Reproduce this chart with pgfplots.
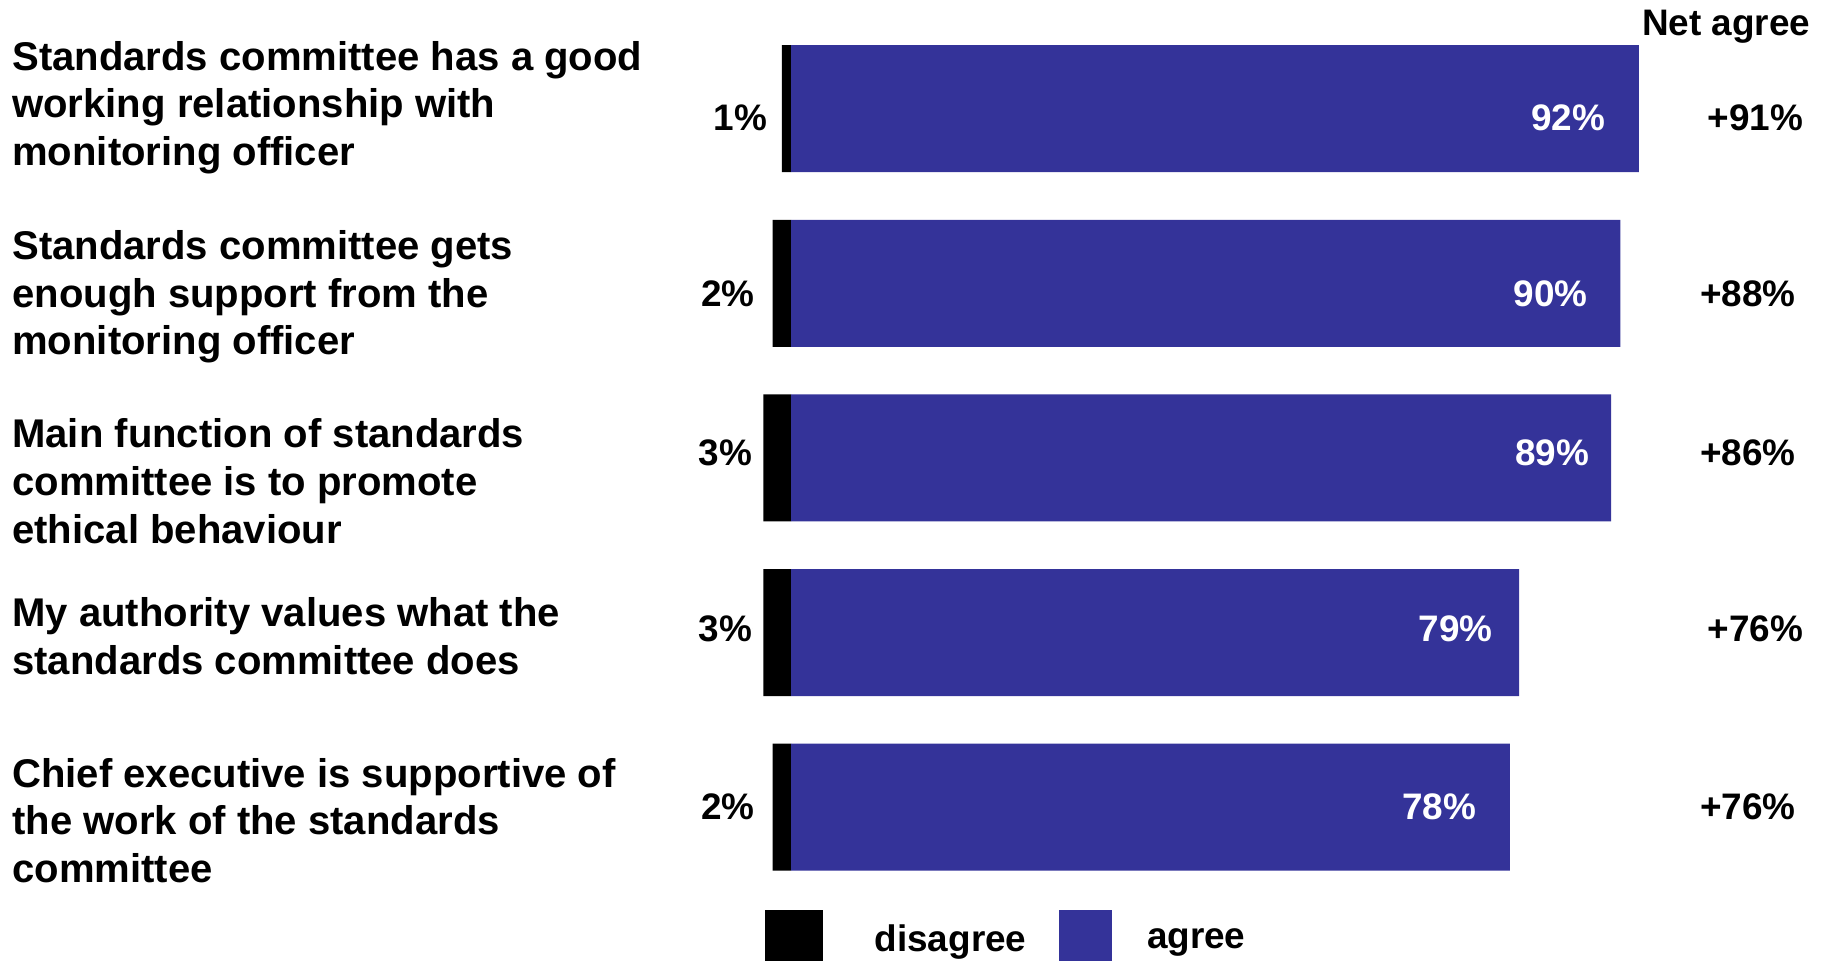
\documentclass[border=0pt]{standalone}
\usepackage{fontspec}
\setmainfont{Liberation Sans}
\usepackage{pgfplots}
\pgfplotsset{compat=1.18}
\definecolor{agreeblue}{RGB}{52,51,153}
\newcommand{\lblfont}{\bfseries\fontsize{11.4}{13.55}\selectfont}
\newcommand{\valfont}{\bfseries\fontsize{10.5}{12}\selectfont}
\begin{document}
\begin{tikzpicture}
\path[use as bounding box] (0,0) rectangle (182.2mm,-96.1mm);
% left category labels
\begin{scope}[every node/.style={anchor=base west, inner sep=0pt, font=\lblfont}]
\node at (1.16mm,-7.01mm) {Standards committee has a good};
\node at (1.16mm,-11.77mm) {working relationship with};
\node at (1.16mm,-16.54mm) {monitoring officer};
\node at (1.16mm,-25.95mm) {Standards committee gets};
\node at (1.16mm,-30.71mm) {enough support from the};
\node at (1.16mm,-35.48mm) {monitoring officer};
\node at (1.16mm,-44.77mm) {Main function of standards};
\node at (1.16mm,-49.54mm) {committee is to promote};
\node at (1.16mm,-54.30mm) {ethical behaviour};
\node at (1.16mm,-62.67mm) {My authority values what the};
\node at (1.16mm,-67.43mm) {standards committee does};
\node at (1.16mm,-78.70mm) {Chief executive is supportive of};
\node at (1.16mm,-83.47mm) {the work of the standards};
\node at (1.16mm,-88.23mm) {committee};
\end{scope}
\begin{axis}[
  at={(79.1mm,6.59mm)}, anchor=origin,
  x=0.9215mm, y={(0mm,-17.46mm)},
  xmin=-5, xmax=112, ymin=0, ymax=5.7,
  hide axis, clip=false,
  legend columns=2,
  legend style={at={(axis cs:-2.865,5.588)}, anchor=north west,
    draw=none, fill=none, inner sep=0pt, outer sep=0pt,
    font=\valfont,
    nodes={inner sep=0pt},
    /tikz/every even column/.append style={column sep=3.26mm}},
]
\addplot[xbar, bar width=12.7mm, bar shift=0pt, fill=black, draw=none,
  legend image code/.code={\fill[black] (0mm,-2.0mm) rectangle (5.8mm,3.1mm); \path (11.0mm,0mm);}]
  coordinates {(-1,1) (-2,2) (-3,3) (-3,4) (-2,5)};
\addlegendentry{disagree}
\addplot[xbar, bar width=12.7mm, bar shift=0pt, fill=agreeblue, draw=none,
  legend image code/.code={\fill[agreeblue] (0mm,-2.0mm) rectangle (5.3mm,3.1mm); \path (8.8mm,0mm);}]
  coordinates {(92,1) (90,2) (89,3) (79,4) (78,5)};
\addlegendentry{agree}
% disagree labels
\addplot[forget plot, only marks, mark=*, mark size=0pt, mark options={draw=none,fill=none},
  nodes near coords, point meta=explicit symbolic,
  nodes near coords style={anchor=east, inner sep=0pt, font=\valfont, text=black}]
  coordinates {(-2.50,1.050)[1\%] (-3.90,2.061)[2\%] (-4.14,2.973)[3\%] (-4.14,3.978)[3\%] (-3.90,4.996)[2\%]};
% agree labels
\addplot[forget plot, only marks, mark=*, mark size=0pt, mark options={draw=none,fill=none},
  nodes near coords, point meta=explicit symbolic,
  nodes near coords style={anchor=east, inner sep=0pt, font=\valfont, text=white}]
  coordinates {(88.4,1.050)[92\%] (86.5,2.061)[90\%] (86.7,2.973)[89\%] (76.2,3.978)[79\%] (74.4,4.996)[78\%]};
% net agree labels
\addplot[forget plot, only marks, mark=*, mark size=0pt, mark options={draw=none,fill=none},
  nodes near coords, point meta=explicit symbolic,
  nodes near coords style={anchor=east, inner sep=0pt, font=\valfont, text=black}]
  coordinates {(109.9,1.050)[+91\%] (109.1,2.061)[+88\%] (109.1,2.973)[+86\%] (109.9,3.978)[+76\%] (109.1,4.996)[+76\%]};
\node[anchor=east, inner sep=0pt, font=\valfont] at (axis cs:110.7,0.53) {Net agree};
\end{axis}
\end{tikzpicture}
\end{document}
